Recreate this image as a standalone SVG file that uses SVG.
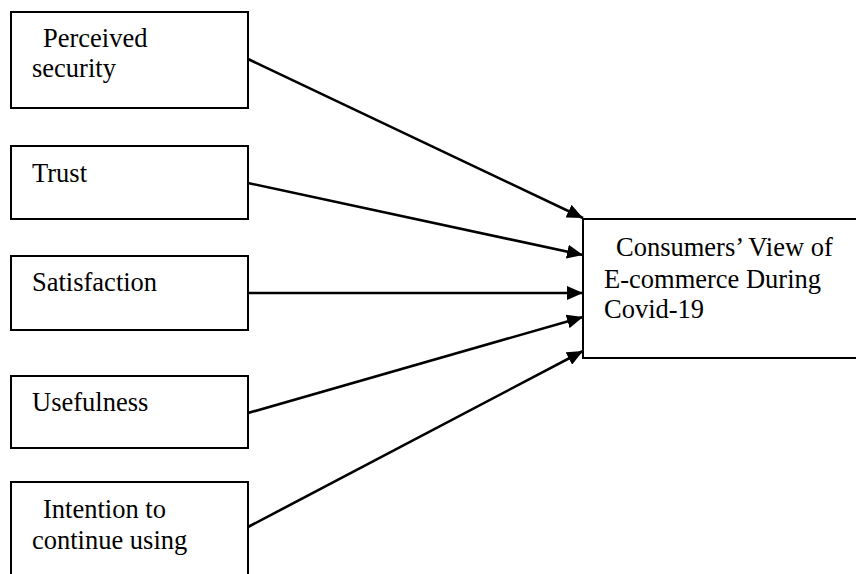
<svg xmlns="http://www.w3.org/2000/svg" width="856" height="574" viewBox="0 0 856 574">
<style>
.box{fill:#fff;stroke:#000;stroke-width:2}
.t{font-family:"Liberation Serif","Times New Roman",serif;font-size:26.5px;fill:#000}
.c{stroke:#000;stroke-width:2.6;fill:none;marker-end:url(#ah)}
</style>
<defs>
<marker id="ah" markerUnits="userSpaceOnUse" markerWidth="17" markerHeight="14" refX="16" refY="7" orient="auto">
<path d="M0,0 L16,7 L0,14 z" fill="#000"/>
</marker>
</defs>
<rect width="856" height="574" fill="#fff"/>
<g id="connectors">
<line class="c" x1="248" y1="59" x2="583" y2="218"/>
<line class="c" x1="248" y1="183" x2="583" y2="255"/>
<line class="c" x1="248" y1="293" x2="583" y2="293"/>
<line class="c" x1="248" y1="413" x2="583" y2="317"/>
<line class="c" x1="248" y1="527" x2="583" y2="351"/>
</g>
<g id="n1"><rect class="box" x="11" y="12" width="237" height="96"/>
<text class="t" x="43" y="47">Perceived</text><text class="t" x="32" y="77">security</text></g>
<g id="n2"><rect class="box" x="11" y="146" width="237" height="73"/>
<text class="t" x="32" y="182">Trust</text></g>
<g id="n3"><rect class="box" x="11" y="256" width="237" height="74"/>
<text class="t" x="32" y="291">Satisfaction</text></g>
<g id="n4"><rect class="box" x="11" y="376" width="237" height="72"/>
<text class="t" x="32" y="411">Usefulness</text></g>
<g id="n5"><rect class="box" x="11" y="482" width="237" height="110"/>
<text class="t" x="43" y="518">Intention to</text><text class="t" x="32" y="549">continue using</text></g>
<g id="n6"><rect class="box" x="583" y="219" width="290" height="139"/>
<text class="t" x="616" y="256">Consumers’ View of</text><text class="t" x="604" y="288">E-commerce During</text><text class="t" x="604" y="318">Covid-19</text></g>
</svg>
